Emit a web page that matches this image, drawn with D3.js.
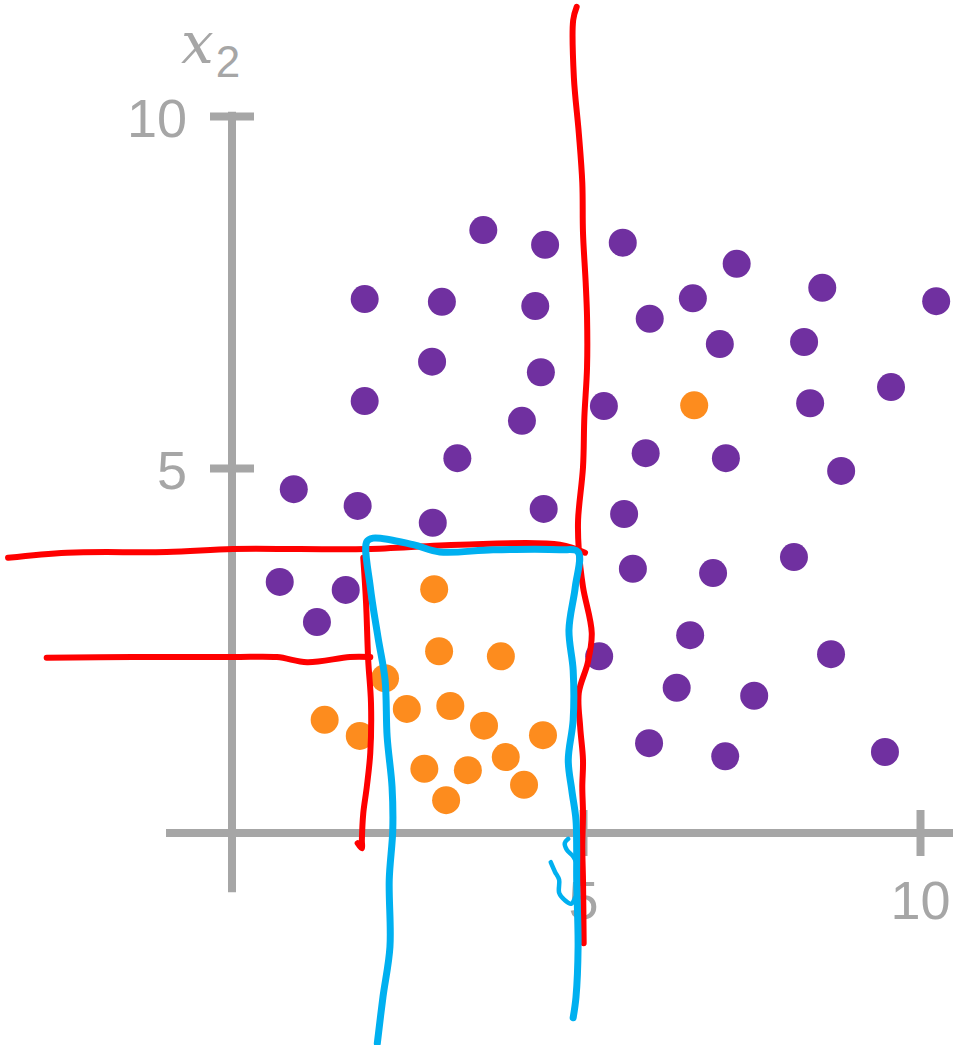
<!DOCTYPE html>
<html>
<head>
<meta charset="utf-8">
<script src="https://cdn.jsdelivr.net/npm/d3@7"></script>
<style>
  html, body { margin: 0; padding: 0; background: #fff; }
  #svg-container { width: 953px; height: 1045px; }
</style>
</head>
<body>
<div id="svg-container"></div>
<script>
////////////////////////////////////////////////////////////////////
////////////////////////////  Data  ////////////////////////////////
// purple class points [x1, x2]
const purplePoints = [
  [3.58, 8.38], [4.46, 8.17], [5.59, 8.20], [7.28, 7.90], [8.55, 7.56],
  [10.24, 7.37], [1.89, 7.40], [2.99, 7.36], [4.32, 7.30], [5.99, 7.12],
  [6.63, 7.41], [7.03, 6.76], [8.28, 6.79], [2.85, 6.51], [4.40, 6.36],
  [1.89, 5.95], [5.31, 5.88], [8.37, 5.92], [9.57, 6.15], [4.13, 5.67],
  [3.21, 5.14], [5.93, 5.21], [7.12, 5.14], [8.83, 4.96], [0.88, 4.71],
  [1.79, 4.48], [2.86, 4.25], [4.44, 4.44], [5.61, 4.37], [0.68, 3.44],
  [1.62, 3.33], [1.21, 2.89], [5.74, 3.62], [6.93, 3.56], [8.13, 3.78],
  [5.24, 2.42], [6.59, 2.71], [8.68, 2.45], [6.39, 1.99], [7.54, 1.88],
  [5.98, 1.23], [7.11, 1.05], [9.48, 1.11]
];

// orange class points [x1, x2]
const orangePoints = [
  [6.65, 5.89], [2.88, 3.34], [2.95, 2.49], [3.83, 2.42], [2.18, 2.12],
  [2.49, 1.70], [3.11, 1.74], [3.59, 1.47], [1.32, 1.55], [1.82, 1.33],
  [4.43, 1.34], [3.90, 1.04], [2.74, 0.88], [3.36, 0.86], [4.16, 0.66],
  [3.05, 0.45]
];

// hand drawn split lines (red)
const redSplitX = [
  [4.91, 11.55], [4.86, 11.36], [4.87, 10.55], [4.94, 9.76], [4.99, 9.05],
  [5.00, 8.34], [5.04, 7.63], [5.06, 7.14], [5.06, 6.43], [5.02, 5.72],
  [5.00, 5.01], [4.93, 4.29], [4.94, 3.88], [5.00, 3.37], [5.13, 2.74],
  [5.07, 2.33], [4.94, 1.92], [4.96, 1.45], [5.00, 1.00], [4.99, 0.63],
  [5.00, 0.27], [4.99, -0.19], [5.00, -0.64], [5.01, -1.51]
];
const redSplitTop = [
  [-3.19, 3.77], [-2.35, 3.84], [-0.93, 3.85], [0.01, 3.89], [0.97, 3.89],
  [1.92, 3.89], [3.25, 3.95], [4.67, 3.95], [5.03, 3.84]
];
const redSplitLow = [
  [-2.64, 2.40], [-1.41, 2.41], [0.01, 2.41], [0.64, 2.41], [1.07, 2.34],
  [1.68, 2.41], [1.97, 2.41]
];
const redSplitLeft = [
  [1.87, 3.77], [1.91, 3.15], [1.94, 2.37], [1.98, 1.78], [1.97, 1.10],
  [1.92, 0.63], [1.87, 0.27], [1.85, -0.10], [1.85, -0.21], [1.79, -0.14]
];

// hand drawn region (blue)
const blueRegion = [
  [2.07, -2.88], [2.15, -2.25], [2.25, -1.56], [2.24, -0.64], [2.29, 0.04],
  [2.28, 0.63], [2.21, 1.32], [2.18, 2.10], [2.08, 2.68], [1.97, 3.37],
  [1.92, 3.99], [2.01, 4.04], [2.58, 3.95], [2.96, 3.85], [3.72, 3.88],
  [4.67, 3.88], [4.93, 3.85], [4.89, 3.37], [4.80, 2.78], [4.86, 2.23],
  [4.86, 1.55], [4.79, 1.00], [4.84, 0.59], [4.90, 0.18], [4.91, -0.23],
  [4.91, -0.64], [4.93, -1.56], [4.90, -2.25], [4.86, -2.53]
];
const blueScribbleA = [
  [4.79, -0.08], [4.74, -0.14], [4.77, -0.23], [4.86, -0.32], [4.91, -0.41]
];
const blueScribbleB = [
  [4.54, -0.40], [4.60, -0.53], [4.66, -0.64], [4.66, -0.82], [4.74, -0.92],
  [4.83, -0.97], [4.89, -0.88]
];

// ticks
const xTicks = [5, 10];
const yTicks = [5, 10];
const xAxisExtent = [-0.94, 10.5];
const yAxisExtent = [-0.81, 10.06];

////////////////////////////////////////////////////////////////////
////////////////////////////  Init  ///////////////////////////////
const width = 953;
const height = 1045;
const gray = "#a6a6a6";

const svg = d3
  .select("#svg-container")
  .append("svg")
  .attr("width", width)
  .attr("height", height);

// scale (the drawing is not perfectly even, so 3 stops)
const xScale = d3.scaleLinear().domain([0, 5, 10]).range([232, 583, 920]);
const yScale = d3.scaleLinear().domain([0, 5, 10]).range([833, 468, 116]);

////////////////////////////////////////////////////////////////////
////////////////////////////  Axes  ///////////////////////////////
// axis lines
svg
  .append("line")
  .attr("x1", xScale(xAxisExtent[0]))
  .attr("x2", xScale(xAxisExtent[1]))
  .attr("y1", yScale(0))
  .attr("y2", yScale(0))
  .attr("stroke", gray)
  .attr("stroke-width", 8);

svg
  .append("line")
  .attr("x1", xScale(0))
  .attr("x2", xScale(0))
  .attr("y1", yScale(yAxisExtent[0]))
  .attr("y2", yScale(yAxisExtent[1]))
  .attr("stroke", gray)
  .attr("stroke-width", 8);

// x axis ticks + labels
const xAxis = svg
  .append("g")
  .attr("transform", `translate(0,${yScale(0)})`)
  .call(d3.axisBottom(xScale).tickValues(xTicks).tickSizeInner(23).tickSizeOuter(0));

xAxis.select(".domain").remove();
xAxis
  .selectAll(".tick line")
  .attr("y1", -23)
  .attr("stroke", gray)
  .attr("stroke-width", 8);
xAxis
  .selectAll(".tick text")
  .attr("y", 86)
  .attr("dy", 0)
  .attr("fill", gray)
  .style("font-family", "'Liberation Sans', Arial, sans-serif")
  .style("font-size", "54px");

// y axis ticks + labels
const yAxis = svg
  .append("g")
  .attr("transform", `translate(${xScale(0)},0)`)
  .call(d3.axisLeft(yScale).tickValues(yTicks).tickSizeInner(22).tickSizeOuter(0));

yAxis.select(".domain").remove();
yAxis
  .selectAll(".tick line")
  .attr("x1", 22)
  .attr("stroke", gray)
  .attr("stroke-width", 8);
yAxis
  .selectAll(".tick text")
  .attr("x", -45)
  .attr("y", 20)
  .attr("dy", 0)
  .attr("fill", gray)
  .style("font-family", "'Liberation Sans', Arial, sans-serif")
  .style("font-size", "54px");

// axis title x2
const title = svg
  .append("text")
  .attr("x", 181)
  .attr("y", 63)
  .attr("fill", gray);
title
  .append("tspan")
  .style("font-family", "'DejaVu Serif', serif")
  .style("font-style", "italic")
  .style("font-size", "58px")
  .text("x");
title
  .append("tspan")
  .attr("dx", 2)
  .attr("dy", 14)
  .style("font-family", "'Liberation Sans', Arial, sans-serif")
  .style("font-size", "44px")
  .text("2");

////////////////////////////////////////////////////////////////////
////////////////////////////  Points  /////////////////////////////
svg
  .append("g")
  .selectAll("circle")
  .data(purplePoints)
  .join("circle")
  .attr("cx", (d) => xScale(d[0]))
  .attr("cy", (d) => yScale(d[1]))
  .attr("r", 14)
  .attr("fill", "#7030a0");

svg
  .append("g")
  .selectAll("circle")
  .data(orangePoints)
  .join("circle")
  .attr("cx", (d) => xScale(d[0]))
  .attr("cy", (d) => yScale(d[1]))
  .attr("r", 14)
  .attr("fill", "#fd8c1e");

////////////////////////////////////////////////////////////////////
////////////////////////////  Ink  ////////////////////////////////
const ink = d3
  .line()
  .x((d) => xScale(d[0]))
  .y((d) => yScale(d[1]))
  .curve(d3.curveCatmullRom);

[redSplitX, redSplitTop, redSplitLow, redSplitLeft].forEach((path) => {
  svg
    .append("path")
    .datum(path)
    .attr("d", ink)
    .attr("fill", "none")
    .attr("stroke", "#ff0000")
    .attr("stroke-width", 6)
    .attr("stroke-linecap", "round")
    .attr("stroke-linejoin", "round");
});

[blueRegion, blueScribbleA, blueScribbleB].forEach((path, i) => {
  svg
    .append("path")
    .datum(path)
    .attr("d", ink)
    .attr("fill", "none")
    .attr("stroke", "#00b0f0")
    .attr("stroke-width", i === 0 ? 7 : 4.5)
    .attr("stroke-linecap", "round")
    .attr("stroke-linejoin", "round");
});
</script>
</body>
</html>
